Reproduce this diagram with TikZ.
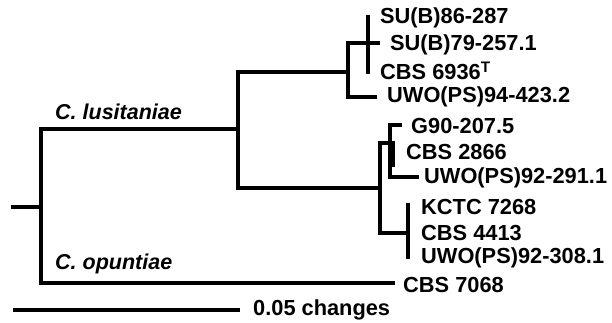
\documentclass[tikz,border=0pt]{standalone}
\usepackage{fontspec}
\setmainfont{Liberation Sans}
\begin{document}
\begin{tikzpicture}[x=1pt,y=-1pt,
  br/.style={line width=3.2pt,line cap=rect,line join=miter},
  leaf/.style={anchor=west,inner sep=0pt,font=\fontsize{21.8}{22}\selectfont\bfseries},
  clade/.style={anchor=west,inner sep=0pt,font=\fontsize{21.5}{22}\selectfont\bfseries\itshape}]
\useasboundingbox (0,0) rectangle (612,322);
% internal nodes
\coordinate (stub) at (13,207);
\coordinate (root) at (41,207);
\coordinate (rootT) at (41,129);
\coordinate (rootB) at (41,283);
\coordinate (L) at (238,129);
\coordinate (LT) at (238,72);
\coordinate (LB) at (238,188);
\coordinate (T) at (348,72);
\coordinate (TT) at (348,43);
\coordinate (TB) at (348,97);
\coordinate (T1) at (368,43);
\coordinate (T1t) at (368,17);
\coordinate (T1b) at (368,72);
\coordinate (B) at (380,188);
\coordinate (BT) at (380,143);
\coordinate (BB) at (380,233);
\coordinate (B1) at (390,143);
\coordinate (B1t) at (390,125);
\coordinate (B1b) at (390,177);
\coordinate (B1m) at (393,143);
\coordinate (B1n) at (393,165);
\coordinate (B2) at (408,233);
\coordinate (B2t) at (408,205);
\coordinate (B2b) at (408,257);
% leaf tips
\coordinate (tSU79) at (378,43);
\coordinate (tUWO94) at (375,97);
\coordinate (tG90) at (400,125);
\coordinate (tUWO291) at (417,177);
\coordinate (tCBS7068) at (393,283);
\coordinate (sb0) at (13,310);
\coordinate (sb1) at (240,310);
% branches
\draw[br] (stub) -- (root);
\draw[br] (rootT) -- (rootB);
\draw[br] (rootT) -- (L);
\draw[br] (LT) -- (LB);
\draw[br] (LT) -- (T);
\draw[br] (TT) -- (TB);
\draw[br] (TT) -- (T1);
\draw[br] (T1t) -- (T1b);
\draw[br] (T1) -- (tSU79);
\draw[br] (TB) -- (tUWO94);
\draw[br] (LB) -- (B);
\draw[br] (BT) -- (BB);
\draw[br] (BT) -- (B1);
\draw[br] (B1t) -- (B1b);
\draw[br] (B1m) -- (B1n);
\draw[br] (B1t) -- (tG90);
\draw[br] (B1b) -- (tUWO291);
\draw[br] (BB) -- (B2);
\draw[br] (B2t) -- (B2b);
\draw[br] (rootB) -- (tCBS7068);
\draw[line width=3.2pt] (sb0) -- (sb1);
% labels
\node[leaf] (SU86) at (380,18) {SU(B)86-287};
\node[leaf] (SU79) at (390,45) {SU(B)79-257.1};
\node[leaf] (CBS6936) at (380,71) {CBS 6936\textsuperscript{T}};
\node[leaf] (UWO94) at (387,97) {UWO(PS)94-423.2};
\node[leaf] (G90) at (411,126) {G90-207.5};
\node[leaf] (CBS2866) at (406,152) {CBS 2866};
\node[leaf] (UWO291) at (424,178) {UWO(PS)92-291.1};
\node[leaf] (KCTC) at (421,207) {KCTC 7268};
\node[leaf] (CBS4413) at (421,233) {CBS 4413};
\node[leaf] (UWO308) at (421,258) {UWO(PS)92-308.1};
\node[leaf] (CBS7068) at (403,285) {CBS 7068};
\node[clade] (lus) at (55,112) {C. lusitaniae};
\node[clade] (opu) at (55,264) {C. opuntiae};
\node[leaf] (scale) at (253,310) {0.05 changes};
\end{tikzpicture}
\end{document}
